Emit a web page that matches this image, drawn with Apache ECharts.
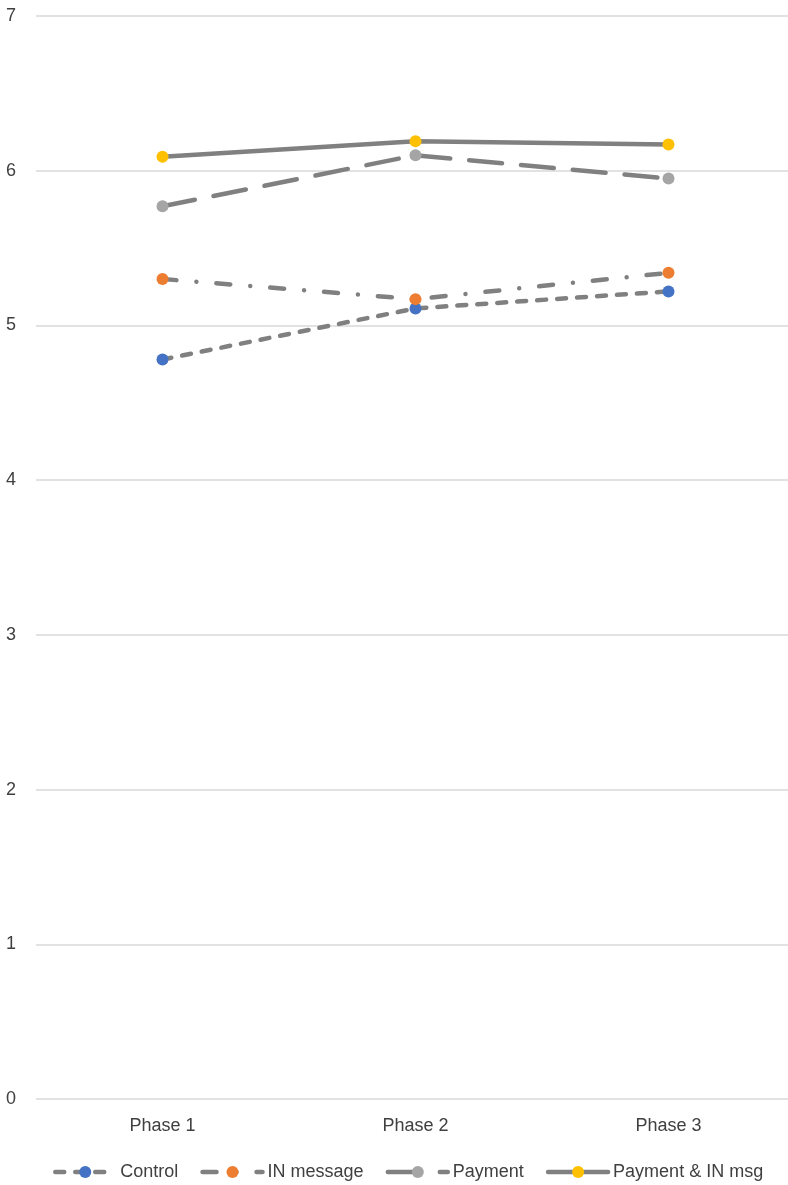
<!DOCTYPE html>
<html>
<head>
<meta charset="utf-8">
<script src="https://cdn.jsdelivr.net/npm/echarts@6/dist/echarts.min.js"></script>
<style>html,body{margin:0;padding:0;background:#fff;}#c{width:788px;height:1185px;}</style>
</head>
<body>
<div id="c"></div>
<script>
const categories = ['Phase 1', 'Phase 2', 'Phase 3'];
const controlValues = [4.78, 5.11, 5.22];
const inMessageValues = [5.30, 5.17, 5.34];
const paymentValues = [5.77, 6.10, 5.95];
const paymentInValues = [6.09, 6.19, 6.17];
const seriesNames = ['Control', 'IN message', 'Payment', 'Payment & IN msg'];
const yTicks = [0, 7, 1];

const FONT = '"Liberation Sans", Arial, Helvetica, sans-serif';
const LINE = '#808080';
function mk(name, data, color, dash) {
  return {
    name: name, type: 'line', data: data,
    symbol: 'circle', symbolSize: 12,
    itemStyle: { color: color },
    lineStyle: { color: LINE, width: 4.5, type: dash, cap: 'round' },
    emphasis: { disabled: true },
    animation: false
  };
}
const chart = echarts.init(document.getElementById('c'), null, { renderer: 'canvas' });
chart.setOption({
  backgroundColor: '#fff',
  animation: false,
  grid: { left: 36, top: 16, width: 759, height: 1083, containLabel: false, outerBoundsMode: 'none' },
  legend: {
    left: 48, top: 1158,
    itemWidth: 60, itemHeight: 15, itemGap: 22,
    lineStyle: { width: 4.5, color: LINE },
    textStyle: { fontFamily: FONT, fontSize: 18, color: '#404040' },
    data: seriesNames
  },
  xAxis: {
    type: 'category', data: categories, boundaryGap: true,
    axisLine: { show: false }, axisTick: { show: false },
    axisLabel: { fontFamily: FONT, fontSize: 18, color: '#404040', margin: 18 }
  },
  yAxis: {
    type: 'value', min: yTicks[0], max: yTicks[1], interval: yTicks[2],
    axisLine: { show: false }, axisTick: { show: false },
    splitLine: { lineStyle: { color: '#d9d9d9', width: 1.5 } },
    axisLabel: { fontFamily: FONT, fontSize: 18, color: '#404040', margin: 20 }
  },
  series: [
    mk(seriesNames[0], controlValues, '#4472C4', [9, 11]),
    mk(seriesNames[1], inMessageValues, '#ED7D31', [14, 20, 0.01, 20]),
    mk(seriesNames[2], paymentValues, '#A5A5A5', [33, 19]),
    mk(seriesNames[3], paymentInValues, '#FFC000', 'solid')
  ]
});
</script>
</body>
</html>
